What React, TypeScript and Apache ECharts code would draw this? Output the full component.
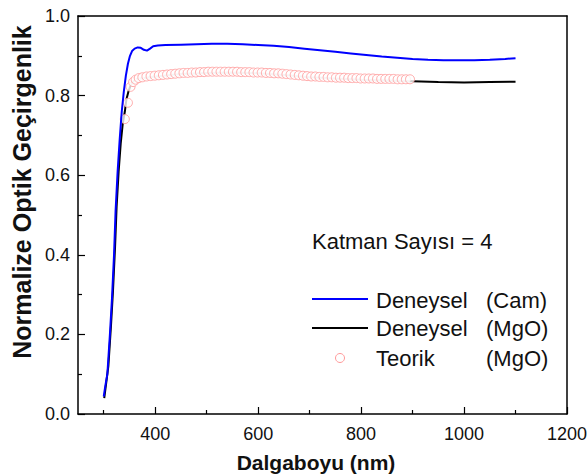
import React, { useEffect, useRef } from "react";
import * as echarts from "echarts";

// Deneysel (Cam) - blue
const camX = [300, 303, 307, 312, 316, 320, 323, 327, 331, 335, 339, 343, 347, 351, 355, 360, 366, 372, 378, 384, 390, 396, 405, 420, 450, 480, 510, 540, 570, 600, 630, 660, 690, 720, 750, 780, 810, 840, 870, 900, 930, 960, 990, 1020, 1050, 1080, 1100];
const camY = [0.044, 0.07, 0.1, 0.2, 0.29, 0.4, 0.51, 0.61, 0.69, 0.76, 0.81, 0.85, 0.88, 0.9, 0.912, 0.918, 0.921, 0.92, 0.915, 0.913, 0.918, 0.924, 0.926, 0.927, 0.928, 0.929, 0.93, 0.93, 0.929, 0.927, 0.925, 0.922, 0.918, 0.914, 0.91, 0.906, 0.902, 0.898, 0.895, 0.892, 0.89, 0.889, 0.889, 0.889, 0.89, 0.892, 0.894];

// Deneysel (MgO) - black
const mgoX = [301, 305, 309, 314, 318, 322, 325, 329, 333, 337, 341, 344, 348, 352, 357, 365, 400, 450, 500, 550, 600, 650, 700, 750, 800, 850, 900, 950, 1000, 1050, 1100];
const mgoY = [0.04, 0.08, 0.12, 0.22, 0.31, 0.42, 0.52, 0.61, 0.68, 0.73, 0.76, 0.79, 0.81, 0.825, 0.835, 0.842, 0.848, 0.854, 0.857, 0.858, 0.856, 0.852, 0.846, 0.843, 0.84, 0.838, 0.836, 0.834, 0.833, 0.834, 0.835];

// Teorik (MgO) - circles
const teoX = [341, 347, 352, 357, 362, 368, 375, 383, 391, 399, 407, 415, 423, 431, 439, 447, 455, 463, 471, 479, 487, 495, 503, 511, 519, 527, 535, 543, 551, 559, 567, 575, 583, 591, 599, 607, 615, 623, 631, 639, 647, 655, 663, 671, 679, 687, 695, 703, 711, 719, 727, 735, 743, 751, 759, 767, 775, 783, 791, 799, 807, 815, 823, 831, 839, 847, 855, 863, 871, 879, 887, 895];
const teoY = [0.741, 0.782, 0.822, 0.834, 0.84, 0.844, 0.846, 0.848, 0.849, 0.85, 0.851, 0.852, 0.853, 0.854, 0.855, 0.856, 0.857, 0.857, 0.858, 0.858, 0.859, 0.859, 0.86, 0.86, 0.86, 0.86, 0.86, 0.86, 0.86, 0.86, 0.859, 0.859, 0.859, 0.858, 0.858, 0.858, 0.857, 0.857, 0.856, 0.856, 0.855, 0.854, 0.853, 0.852, 0.851, 0.85, 0.849, 0.848, 0.848, 0.847, 0.847, 0.846, 0.846, 0.845, 0.845, 0.845, 0.844, 0.844, 0.844, 0.843, 0.843, 0.843, 0.843, 0.842, 0.842, 0.842, 0.842, 0.842, 0.841, 0.841, 0.841, 0.841];

const xMajorTicks = [400, 600, 800, 1000, 1200];
const xMinorTicks = [300, 500, 700, 900, 1100];

const FONT = "'Liberation Sans', Arial, sans-serif";
const TXT = "#111";

export default function App() {
  const ref = useRef<HTMLDivElement>(null);
  useEffect(() => {
    if (!ref.current) return;
    const chart = echarts.init(ref.current, undefined, { renderer: "svg" });
    const zip = (xs: number[], ys: number[]) => xs.map((x, i) => [x, ys[i]]);
    const axisLine = { show: true, lineStyle: { color: "#000", width: 1.5 } };
    chart.setOption({
      animation: false,
      backgroundColor: "#fff",
      grid: { left: 78, right: 21, top: 16, bottom: 62, containLabel: false, outerBoundsMode: "none" },
      xAxis: [
        {
          type: "value", min: 250, max: 1200, position: "bottom",
          axisLine,
          axisTick: { show: true, inside: true, length: 7, customValues: xMajorTicks, lineStyle: { color: "#000", width: 1.2 } },
          axisLabel: { customValues: xMajorTicks, fontSize: 18, color: TXT, fontFamily: FONT, margin: 11, formatter: (v: number) => String(v) },
          splitLine: { show: false },
        },
        {
          type: "value", min: 250, max: 1200, position: "bottom",
          axisLine: { show: false },
          axisTick: { show: true, inside: true, length: 4, customValues: xMinorTicks, lineStyle: { color: "#000", width: 1.2 } },
          axisLabel: { show: false },
          splitLine: { show: false },
        },
        {
          type: "value", min: 250, max: 1200, position: "top",
          axisLine, axisTick: { show: false }, axisLabel: { show: false }, splitLine: { show: false },
        },
      ],
      yAxis: [
        {
          type: "value", min: 0, max: 1, interval: 0.2, position: "left",
          axisLine,
          axisTick: { show: true, inside: true, length: 7, lineStyle: { color: "#000", width: 1.2 } },
          minorTick: { show: true, splitNumber: 2, length: 4, lineStyle: { color: "#000", width: 1.2 } },
          axisLabel: { fontSize: 18, color: TXT, fontFamily: FONT, margin: 8, formatter: (v: number) => v.toFixed(1) },
          splitLine: { show: false },
        },
        {
          type: "value", min: 0, max: 1, interval: 0.2, position: "right",
          axisLine, axisTick: { show: false }, axisLabel: { show: false }, splitLine: { show: false },
        },
      ],
      series: [
        {
          name: "Deneysel (MgO)", type: "line", data: zip(mgoX, mgoY), showSymbol: false,
          lineStyle: { color: "#000", width: 2 }, z: 2,
        },
        {
          name: "Teorik (MgO)", type: "scatter", data: zip(teoX, teoY), symbol: "circle", symbolSize: 9,
          itemStyle: { color: "#fff", borderColor: "#ff9999", borderWidth: 1 }, z: 3,
        },
        {
          name: "Deneysel (Cam)", type: "line", data: zip(camX, camY), showSymbol: false,
          lineStyle: { color: "#0000ff", width: 2 }, z: 4,
        },
      ],
      graphic: [
        { type: "text", x: 22, y: 192, rotation: Math.PI / 2, style: { text: "Normalize Optik Geçirgenlik", font: `bold 25px ${FONT}`, fill: TXT, align: "center", verticalAlign: "middle" } },
        { type: "text", x: 316, y: 462, style: { text: "Dalgaboyu (nm)", font: `bold 21px ${FONT}`, fill: TXT, align: "center", verticalAlign: "middle" } },
        { type: "text", x: 312, y: 241, style: { text: "Katman Sayısı = 4", font: `22px ${FONT}`, fill: TXT, align: "left", verticalAlign: "middle" } },
        { type: "line", shape: { x1: 312, y1: 299, x2: 368, y2: 299 }, style: { stroke: "#0000ff", lineWidth: 2 } },
        { type: "text", x: 376, y: 300, style: { text: "Deneysel", font: `22px ${FONT}`, fill: TXT, align: "left", verticalAlign: "middle" } },
        { type: "text", x: 486, y: 300, style: { text: "(Cam)", font: `22px ${FONT}`, fill: TXT, align: "left", verticalAlign: "middle" } },
        { type: "line", shape: { x1: 312, y1: 328, x2: 368, y2: 328 }, style: { stroke: "#000", lineWidth: 2 } },
        { type: "text", x: 376, y: 328, style: { text: "Deneysel", font: `22px ${FONT}`, fill: TXT, align: "left", verticalAlign: "middle" } },
        { type: "text", x: 486, y: 328, style: { text: "(MgO)", font: `22px ${FONT}`, fill: TXT, align: "left", verticalAlign: "middle" } },
        { type: "circle", shape: { cx: 340, cy: 358, r: 4.5 }, style: { fill: "#fff", stroke: "#ff9999", lineWidth: 1 } },
        { type: "text", x: 376, y: 358, style: { text: "Teorik", font: `22px ${FONT}`, fill: TXT, align: "left", verticalAlign: "middle" } },
        { type: "text", x: 486, y: 358, style: { text: "(MgO)", font: `22px ${FONT}`, fill: TXT, align: "left", verticalAlign: "middle" } },
      ],
    });
    return () => chart.dispose();
  }, []);
  return <div ref={ref} style={{ position: "fixed", left: 0, top: 0, width: 588, height: 476 }} />;
}
